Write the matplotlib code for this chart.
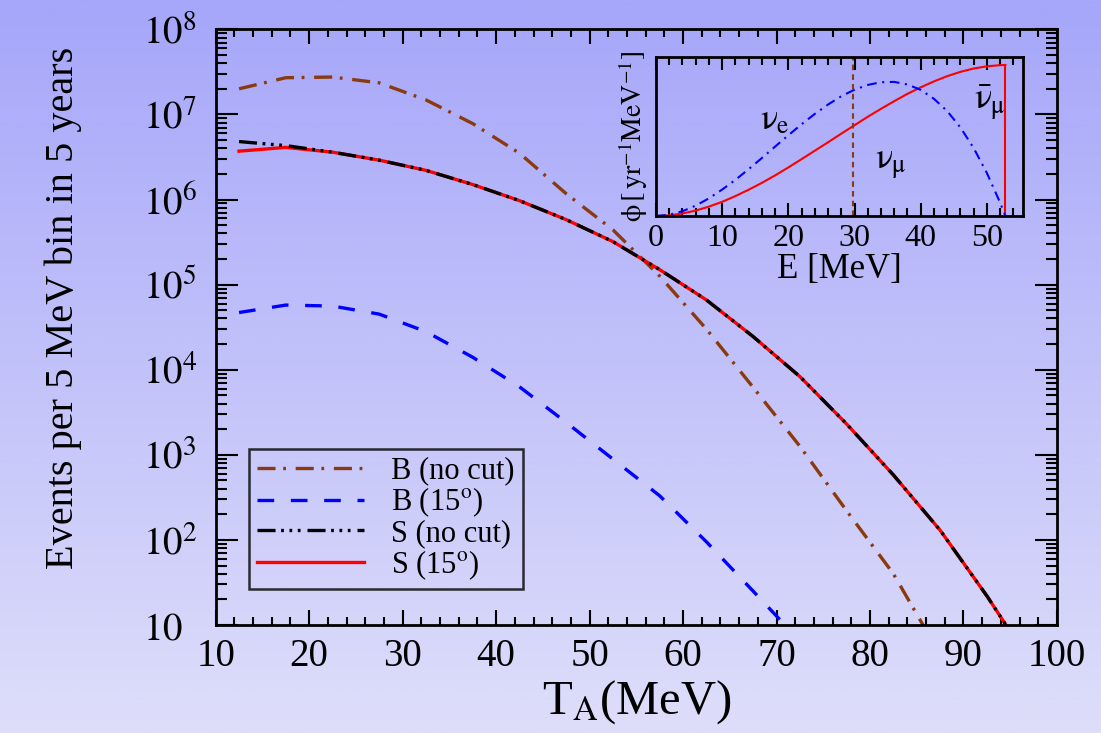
import numpy as np
import matplotlib
matplotlib.use('Agg')
import matplotlib.pyplot as plt
from matplotlib.lines import Line2D
from matplotlib.ticker import FixedLocator, MultipleLocator, LogLocator, NullFormatter, NullLocator

plt.rcParams['font.family'] = ['Liberation Serif', 'DejaVu Serif']
plt.rcParams['mathtext.fontset'] = 'stix'
plt.rcParams['lines.scale_dashes'] = False

# main plot: events per 5 MeV bin, bin centres in MeV
t_bins = [12.5, 17.5, 22.5, 27.5, 32.5, 37.5, 42.5, 47.5, 52.5, 57.5,
          62.5, 67.5, 72.5, 77.5, 82.5, 87.5, 92.5, 97.5]
b_nocut = [2.0e7, 2.7e7, 2.75e7, 2.35e7, 1.48e7, 7.8e6, 3.5e6, 1.17e6, 4.4e5,
           1.26e5, 3.0e4, 6.2e3, 1.26e3, 2.2e2, 40, 4.5]
b_15 = [4.7e4, 5.75e4, 5.6e4, 4.5e4, 2.8e4, 1.4e4, 6.3e3, 2.4e3, 8.9e2,
        3.3e2, 95, 25, 6.5]
s_nocut = [4.8e6, 4.3e6, 3.6e6, 2.9e6, 2.2e6, 1.5e6, 9.7e5, 5.8e5, 3.2e5,
           1.5e5, 6.6e4, 2.45e4, 8.3e3, 2.3e3, 5.8e2, 1.3e2, 22, 3.2]
s_15 = [3.7e6, 4.1e6, 3.6e6, 2.9e6, 2.2e6, 1.5e6, 9.7e5, 5.8e5, 3.2e5,
        1.5e5, 6.6e4, 2.45e4, 8.3e3, 2.3e3, 5.8e2, 1.3e2, 22, 3.2]

x_ticks = [10, 20, 30, 40, 50, 60, 70, 80, 90, 100]
y_ticks = [1e1, 1e2, 1e3, 1e4, 1e5, 1e6, 1e7, 1e8]
y_labels = ['$10$', '$10^2$', '$10^3$', '$10^4$', '$10^5$', '$10^6$', '$10^7$', '$10^8$']

# inset: neutrino fluxes (arbitrary units)
e_flux = [0, 2, 4, 6, 8, 10, 12, 14, 16, 18, 20, 22, 24, 26, 28, 30, 32, 34,
          36, 38, 40, 42, 44, 46, 48, 50, 52, 52.8]
nubar_mu = [0, 0.004, 0.016, 0.034, 0.059, 0.089, 0.125, 0.165, 0.208, 0.255,
            0.305, 0.357, 0.41, 0.463, 0.517, 0.57, 0.623, 0.673, 0.721, 0.767,
            0.808, 0.845, 0.878, 0.905, 0.926, 0.94, 0.947, 0.948]
nu_e = [0, 0.008, 0.03, 0.065, 0.111, 0.166, 0.227, 0.294, 0.364, 0.436,
        0.507, 0.576, 0.641, 0.7, 0.752, 0.793, 0.823, 0.84, 0.842, 0.826,
        0.792, 0.736, 0.659, 0.556, 0.427, 0.27, 0.084, 0.0]
e_numu = 29.8

fig = plt.figure(figsize=(11.01, 7.33), dpi=100)

# background gradient
bg = fig.add_axes([0, 0, 1, 1], zorder=-10)
grad = np.linspace(0, 1, 256)[:, None]
top_c = np.array([166, 166, 250]) / 255
bot_c = np.array([222, 222, 250]) / 255
img = top_c[None, None, :] * (1 - grad[:, :, None]) + bot_c[None, None, :] * grad[:, :, None]
bg.imshow(img, aspect='auto', extent=[0, 1, 0, 1])
bg.axis('off')

ax = fig.add_axes([0.1959, 0.1473, 0.7641, 0.8127])
ax.patch.set_alpha(0)

lw = 2.4
brown = '#8B3A0F'
ax.plot(t_bins[:len(b_nocut)], b_nocut, color=brown, lw=lw, dashes=(13, 5.5, 2, 7))
ax.plot(t_bins[:len(b_15)], b_15, color='#0000FF', lw=lw, dashes=(12, 12))
ax.plot(t_bins, s_15, color='#FF0000', lw=lw)
ax.plot(t_bins, s_nocut, color='black', lw=lw, dashes=(13, 4, 2, 4, 2, 4, 2, 5))

ax.set_yscale('log')
ax.set_xlim(10, 100)
ax.set_ylim(10, 1e8)

ax.xaxis.set_major_locator(FixedLocator(x_ticks))
ax.xaxis.set_minor_locator(MultipleLocator(2))
ax.set_xticklabels([str(v) for v in x_ticks])
ax.yaxis.set_major_locator(FixedLocator(y_ticks))
ax.yaxis.set_minor_locator(LogLocator(base=10, subs=np.arange(2, 10), numticks=20))
ax.yaxis.set_minor_formatter(NullFormatter())
ax.set_yticklabels(y_labels)

ax.tick_params(axis='both', which='both', direction='in', top=True, right=True, width=1.5)
ax.tick_params(axis='x', which='major', length=11, labelsize=28, pad=9)
ax.tick_params(axis='x', which='minor', length=5.5)
ax.tick_params(axis='y', which='major', length=15.5, labelsize=28, pad=52)
ax.tick_params(axis='y', which='minor', length=8)
for lab in ax.get_yticklabels():
    lab.set_horizontalalignment('left')
    lab.set_verticalalignment('center_baseline')
for sp in ax.spines.values():
    sp.set_linewidth(2)

fig.text(0.057, 0.58, 'Events per 5 MeV bin in 5 years', rotation=90,
         ha='center', va='center', fontsize=29)
fig.text(0.578, 0.042, r'T$_{\rm A}$(MeV)', ha='center', va='center', fontsize=35)

handles = [Line2D([], [], color=brown, lw=lw, dashes=(13, 5.5, 2, 7)),
           Line2D([], [], color='#0000FF', lw=lw, dashes=(12, 12)),
           Line2D([], [], color='black', lw=lw, dashes=(13, 4, 2, 4, 2, 4, 2, 5)),
           Line2D([], [], color='#FF0000', lw=lw)]
labels = ['B (no cut)', r'B (15$^{\rm o}$)', 'S (no cut)', r'S (15$^{\rm o}$)']
leg = ax.legend(handles, labels, loc='lower left', bbox_to_anchor=(0.04, 0.06),
                borderaxespad=0, fontsize=22, handlelength=3.5, handletextpad=0.9,
                labelspacing=0.0, borderpad=0.25, fancybox=False, frameon=True)
leg.get_frame().set_edgecolor('black')
leg.get_frame().set_linewidth(1.8)
leg.get_frame().set_facecolor('none')

# inset
ins = fig.add_axes([0.5958, 0.7053, 0.3336, 0.2173])
ins.patch.set_alpha(0)
ins.plot(e_flux, nubar_mu, color='#FF0000', lw=1.5)
ins.plot([e_flux[-1], e_flux[-1]], [nubar_mu[-1], 0], color='#FF0000', lw=1.5)
ins.plot(e_flux, nu_e, color='#0000FF', lw=1.5, dashes=(7, 4, 1.5, 4))
ins.axvline(e_numu, color=brown, lw=1.5, dashes=(4, 3))
ins.set_xlim(0, 55.5)
ins.set_ylim(0, 1)
ins.xaxis.set_major_locator(MultipleLocator(10))
ins.xaxis.set_minor_locator(MultipleLocator(2))
ins.yaxis.set_major_locator(NullLocator())
ins.tick_params(axis='x', which='both', direction='in', top=True, width=1.5, labelsize=23, pad=6)
ins.tick_params(axis='x', which='major', length=9.5)
ins.tick_params(axis='x', which='minor', length=5.5)
for sp in ins.spines.values():
    sp.set_linewidth(2)
ins.set_xlabel('E [MeV]', fontsize=25, labelpad=0)
ins.set_ylabel(r'$\mathrm{\phi}\,[\,\mathrm{yr}^{-1}\mathrm{MeV}^{-1}]$', fontsize=20, labelpad=4)
ins.text(18, 0.6, r'$\mathrm{\nu}_{\mathrm{e}}$', fontsize=26, ha='center', va='center')
ins.text(35.5, 0.32, r'$\mathrm{\nu}_{\mathrm{\mu}}$', fontsize=26, ha='center', va='center')
ins.text(50.5, 0.71, r'$\bar{\mathrm{\nu}}_{\mathrm{\mu}}$', fontsize=26, ha='center', va='center')

fig.savefig('out.png', dpi=100)
